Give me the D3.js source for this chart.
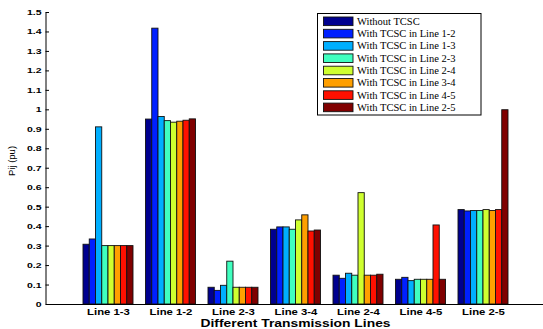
<!DOCTYPE html>
<html>
<head>
<meta charset="utf-8">
<script src="https://cdn.jsdelivr.net/npm/d3@7"></script>
<style>
  body { margin: 0; background: #fff; }
  svg { display: block; }
</style>
</head>
<body>
<svg id="chart"></svg>
<script>
const lines = ["Line 1-3", "Line 1-2", "Line 2-3", "Line 3-4", "Line 2-4", "Line 4-5", "Line 2-5"];
const series = ["Without TCSC", "With TCSC in Line 1-2", "With TCSC in Line 1-3", "With TCSC in Line 2-3",
                "With TCSC in Line 2-4", "With TCSC in Line 3-4", "With TCSC in Line 4-5", "With TCSC in Line 2-5"];
const colors = ["#00008f", "#0020ff", "#00afff", "#40ffbf", "#cfff30", "#ff9f00", "#ff1000", "#800000"];

// one array per series, one value per line
const withoutTCSC = [0.307, 0.950, 0.086, 0.384, 0.148, 0.127, 0.485];
const tcsc12      = [0.334, 1.417, 0.070, 0.396, 0.132, 0.137, 0.478];
const tcsc13      = [0.910, 0.963, 0.096, 0.396, 0.158, 0.120, 0.480];
const tcsc23      = [0.300, 0.942, 0.220, 0.384, 0.148, 0.127, 0.480];
const tcsc24      = [0.300, 0.934, 0.086, 0.432, 0.572, 0.127, 0.485];
const tcsc34      = [0.300, 0.939, 0.086, 0.458, 0.148, 0.127, 0.480];
const tcsc45      = [0.300, 0.944, 0.086, 0.375, 0.148, 0.406, 0.485];
const tcsc25      = [0.300, 0.951, 0.086, 0.380, 0.153, 0.127, 0.998];
const values = [withoutTCSC, tcsc12, tcsc13, tcsc23, tcsc24, tcsc34, tcsc45, tcsc25];

const yTicks = d3.range(0, 16).map(i => i / 10);

const W = 543, H = 329;
const svg = d3.select("#chart").attr("width", W).attr("height", H);

const margin = { left: 45.5, top: 12 };
const y0 = 304;

// xlim [0, 8], groups sit at 1..7
const x = d3.scaleLinear().domain([0, 8]).range([margin.left, margin.left + 8 * 62.5]);
const y = d3.scaleLinear().domain([0, 1.5]).range([y0, margin.top]);

const groupW = 0.8;
const barW = groupW / series.length;

const rows = [];
lines.forEach((ln, i) => {
  series.forEach((s, j) => {
    rows.push({ line: ln, i, j, v: values[j][i] });
  });
});

svg.append("g").selectAll("rect")
  .data(rows)
  .join("rect")
  .attr("x", d => x((d.i + 1) - groupW / 2 + d.j * barW))
  .attr("y", d => y(d.v))
  .attr("width", x(barW) - x(0))
  .attr("height", d => y0 - y(d.v))
  .attr("fill", d => colors[d.j])
  .attr("stroke", "#111")
  .attr("stroke-width", 0.9);

// axes (text is a bit stretched sideways in the original, hence the scale())
const axisFont = "Liberation Sans, Arial, sans-serif";
const yAxis = svg.append("g")
  .attr("transform", `translate(${margin.left},0)`)
  .call(d3.axisLeft(y).tickValues(yTicks).tickFormat(d => String(+d.toFixed(1))).tickSizeInner(-3.5).tickSizeOuter(0));
yAxis.select(".domain").attr("stroke", "#000");
yAxis.selectAll(".tick line").attr("stroke", "#000");
yAxis.selectAll("text")
  .attr("x", 0)
  .attr("dy", "0.36em")
  .attr("transform", "translate(-4,0) scale(1.5,1)")
  .attr("font-family", axisFont).attr("font-weight", "bold").attr("font-size", 7).attr("fill", "#000");

const xAxis = svg.append("g")
  .attr("transform", `translate(0,${y0})`)
  .call(d3.axisBottom(x).tickValues(d3.range(1, 8)).tickFormat(d => lines[d - 1]).tickSizeInner(0).tickSizeOuter(0));
xAxis.select(".domain").attr("stroke", "#000");
xAxis.selectAll("text")
  .attr("y", 0).attr("dy", 0)
  .attr("transform", "translate(0,11) scale(1.26,1)")
  .attr("font-family", axisFont).attr("font-weight", "bold").attr("font-size", 9).attr("fill", "#000");

svg.append("text")
  .attr("transform", "translate(295.5,327) scale(1.26,1)")
  .attr("text-anchor", "middle")
  .attr("font-family", axisFont).attr("font-weight", "bold").attr("font-size", 11)
  .text("Different Transmission Lines");

svg.append("text")
  .attr("transform", "translate(15,161) rotate(-90)")
  .attr("text-anchor", "middle")
  .attr("font-family", axisFont).attr("font-size", 9.5)
  .text("Pij (pu)");

// legend
const leg = svg.append("g");
leg.append("rect")
  .attr("x", 317.5).attr("y", 13.5).attr("width", 163.5).attr("height", 101.5)
  .attr("fill", "#fff").attr("stroke", "#000").attr("stroke-width", 1);
series.forEach((s, j) => {
  const cy = 21.2 + j * 12.3;
  leg.append("rect")
    .attr("x", 323.5).attr("y", cy - 4.2).attr("width", 29.5).attr("height", 8.6)
    .attr("fill", colors[j]).attr("stroke", "#111").attr("stroke-width", 0.9);
  leg.append("text")
    .attr("x", 357).attr("y", cy + 3.5)
    .attr("font-family", "Liberation Serif, Times New Roman, serif").attr("font-size", 10.5)
    .text(s);
});
</script>
</body>
</html>
